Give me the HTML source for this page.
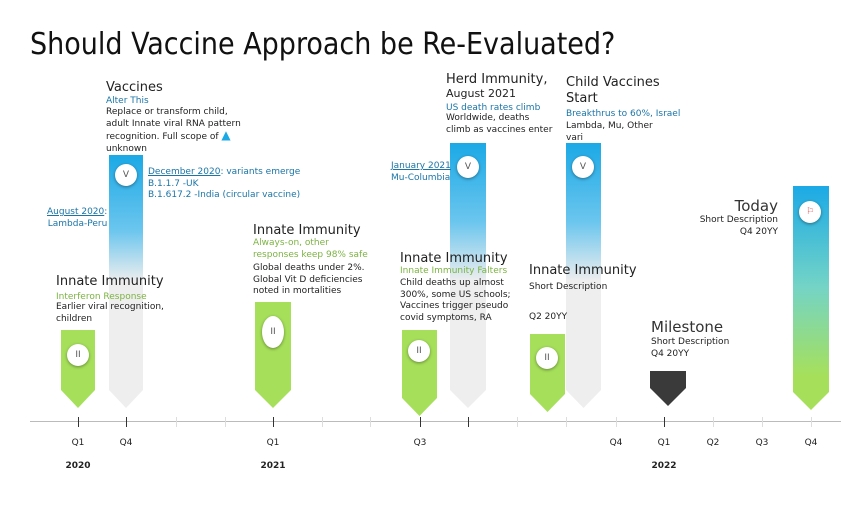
<!DOCTYPE html>
<html><head><meta charset="utf-8"><style>
body{margin:0;width:841px;height:505px;background:#fff;position:relative;overflow:hidden;font-family:"DejaVu Sans","Liberation Sans",sans-serif;color:#222}
.a{position:absolute;white-space:nowrap}
.h{font-size:13px;color:#222}
.s{font-size:9px;line-height:11.5px;color:#222}
.g{color:#7cb342;font-size:9px}
.b{color:#1a75a8;font-size:9px}
.u{text-decoration:underline}
.bar{position:absolute;clip-path:polygon(0 0,100% 0,100% calc(100% - 18px),50% 100%,0 calc(100% - 18px))}
.c{position:absolute;width:22px;height:22px;border-radius:50%;background:#fff;box-shadow:0 1px 3px rgba(0,0,0,.4);font-size:9px;color:#555;text-align:center;line-height:22px}
.t{position:absolute;font-size:9px;color:#222;transform:translateX(-50%)}
.tk{position:absolute;top:417px;width:1px;height:10px;background:#ddd}
</style></head><body>
<div class="a" style="left:30px;top:27px;font-size:30px;color:#111;font-family:'DejaVu Sans Condensed','DejaVu Sans',sans-serif">Should Vaccine Approach be Re-Evaluated?</div>

<div style="position:absolute;left:30px;top:421px;width:811px;height:1px;background:#bbb"></div>
<div class="tk" style="left:78px;background:#333"></div><div class="tk" style="left:126px;background:#333"></div><div class="tk" style="left:176px"></div><div class="tk" style="left:225px"></div><div class="tk" style="left:273px;background:#333"></div><div class="tk" style="left:322px"></div><div class="tk" style="left:370px"></div><div class="tk" style="left:420px;background:#333"></div><div class="tk" style="left:468px;background:#333"></div><div class="tk" style="left:517px"></div><div class="tk" style="left:566px"></div><div class="tk" style="left:616px"></div><div class="tk" style="left:664px;background:#333"></div><div class="tk" style="left:713px"></div><div class="tk" style="left:762px"></div><div class="tk" style="left:811px"></div>
<div class="t" style="left:78px;top:438px">Q1</div><div class="t" style="left:126px;top:438px">Q4</div><div class="t" style="left:273px;top:438px">Q1</div><div class="t" style="left:420px;top:438px">Q3</div><div class="t" style="left:616px;top:438px">Q4</div><div class="t" style="left:664px;top:438px">Q1</div><div class="t" style="left:713px;top:438px">Q2</div><div class="t" style="left:762px;top:438px">Q3</div><div class="t" style="left:811px;top:438px">Q4</div>
<div class="t" style="left:78px;top:461px;font-weight:bold">2020</div><div class="t" style="left:273px;top:461px;font-weight:bold">2021</div><div class="t" style="left:664px;top:461px;font-weight:bold">2022</div>

<!-- bars -->
<div class="bar" style="left:61px;top:330px;width:34px;height:78px;background:#a6e05a"></div>
<div class="bar" style="left:109px;top:155px;width:34px;height:253px;background:linear-gradient(#1ba9e6,#6cc6ee 30%,#eeeeee 50%,#eeeeee)"></div>
<div class="bar" style="left:255px;top:302px;width:36px;height:106px;background:#a6e05a"></div>
<div class="bar" style="left:402px;top:330px;width:35px;height:86px;background:#a6e05a"></div>
<div class="bar" style="left:450px;top:143px;width:36px;height:265px;background:linear-gradient(#1ba9e6,#6cc6ee 30%,#eeeeee 52%,#eeeeee)"></div>
<div class="bar" style="left:530px;top:334px;width:35px;height:78px;background:#a6e05a"></div>
<div class="bar" style="left:566px;top:143px;width:35px;height:265px;background:linear-gradient(#1ba9e6,#6cc6ee 30%,#eeeeee 52%,#eeeeee)"></div>
<div class="bar" style="left:650px;top:371px;width:36px;height:35px;background:#3a3a3a"></div>
<div class="bar" style="left:793px;top:186px;width:36px;height:224px;background:linear-gradient(#1ba9e6,#74d4c6 45%,#a6e05a 85%)"></div>

<div class="c" style="left:67px;top:344px">II</div>
<div class="c" style="left:115px;top:164px">V</div>
<div class="c" style="left:262px;top:316px;height:32px;line-height:32px">II</div>
<div class="c" style="left:408px;top:340px">II</div>
<div class="c" style="left:457px;top:156px">V</div>
<div class="c" style="left:536px;top:347px">II</div>
<div class="c" style="left:572px;top:156px">V</div>
<div class="c" style="left:799px;top:201px;color:#e05050">⚐</div>

<!-- texts -->
<div class="a" style="left:106px;top:80px"><div class="h">Vaccines</div><div class="b" style="line-height:12px">Alter This</div><div class="s">Replace or transform child,<br>adult Innate viral RNA pattern<br>recognition. Full scope of <span style="color:#1ba9e6;font-size:12px">▲</span><br>unknown</div></div>
<div class="a b" style="left:148px;top:167px;line-height:11.5px"><span class="u">December 2020</span>: variants emerge<br>B.1.1.7 -UK<br>B.1.617.2 -India (circular vaccine)</div>
<div class="a b" style="left:47px;top:207px;line-height:11.5px;text-align:right"><span class="u">August 2020</span>:<br>Lambda-Peru</div>
<div class="a" style="left:56px;top:274px"><div class="h">Innate Immunity</div><div class="g" style="margin-top:3px">Interferon Response</div><div class="s">Earlier viral recognition,<br>children</div></div>
<div class="a" style="left:253px;top:223px"><div class="h">Innate Immunity</div><div class="g" style="line-height:11.5px">Always-on, other<br>responses keep 98% safe</div><div class="s" style="margin-top:2px">Global deaths under 2%.<br>Global Vit D deficiencies<br>noted in mortalities</div></div>
<div class="a" style="left:446px;top:72px"><div class="h">Herd Immunity,</div><div style="font-size:11px">August 2021</div><div class="b" style="margin-top:3px">US death rates climb</div><div class="s">Worldwide,  deaths<br>climb as vaccines enter</div></div>
<div class="a b" style="left:391px;top:160px;line-height:12px"><span class="u">January 2021</span><br>Mu-Columbia</div>
<div class="a" style="left:566px;top:75px"><div class="h" style="line-height:16px">Child Vaccines<br>Start</div><div class="b" style="margin-top:2px">Breakthrus to 60%, Israel</div><div class="s" style="margin-top:2px">Lambda, Mu, Other<br>vari</div></div>
<div class="a" style="left:400px;top:251px"><div class="h">Innate Immunity</div><div class="g">Innate Immunity Falters</div><div class="s" style="margin-top:2px">Child deaths up almost<br>300%, some US schools;<br>Vaccines trigger pseudo<br>covid symptoms, RA</div></div>
<div class="a" style="left:529px;top:263px"><div class="h">Innate Immunity</div><div class="s" style="margin-top:4px">Short Description</div><div class="s" style="margin-top:18px">Q2 20YY</div></div>
<div class="a" style="left:651px;top:318px"><div style="font-size:15px;color:#333">Milestone</div><div class="s" style="margin-top:1px">Short Description<br>Q4 20YY</div></div>
<div class="a" style="left:690px;top:197px;text-align:right;width:88px"><div style="font-size:15px;color:#333">Today</div><div class="s">Short Description<br>Q4 20YY</div></div>
</body></html>
